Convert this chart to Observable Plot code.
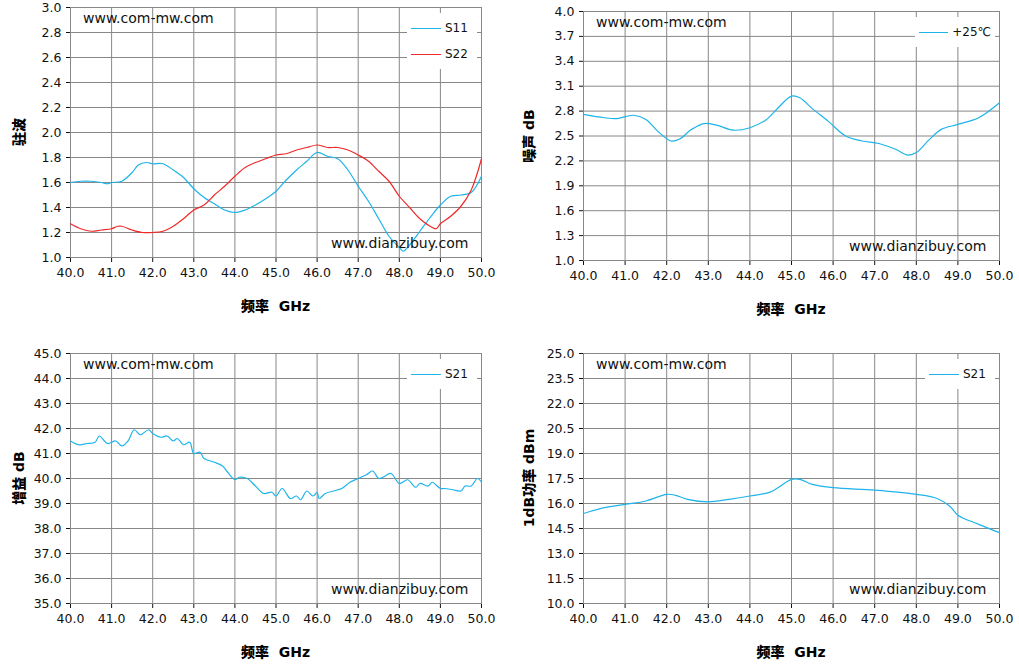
<!DOCTYPE html>
<html><head><meta charset="utf-8">
<script src="https://cdn.jsdelivr.net/npm/d3@7"></script>
<script src="https://cdn.jsdelivr.net/npm/@observablehq/plot@0.6"></script>
<style>
body{margin:0;background:#fff;font-family:"DejaVu Sans",sans-serif}
#wrap{position:relative;width:1019px;height:665px}
.p{position:absolute}
.wm{position:absolute;font:14px "DejaVu Sans";color:#111}
.lg{position:absolute;background:#fff;font:12px "DejaVu Sans";color:#111;padding:2px 4px}
.lg div{display:flex;align-items:center;height:26px}
.lg span{display:inline-block;width:30px;height:0;border-top:1.3px solid;margin-right:4px}
</style></head><body>
<div id="wrap"></div>
<script>
const s11 = [[40.0,1.60],[40.25,1.61],[40.5,1.61],[40.75,1.60],[40.9,1.59],[41.0,1.60],[41.25,1.61],[41.5,1.68],[41.65,1.74],[41.85,1.76],[42.0,1.75],[42.25,1.75],[42.5,1.70],[42.75,1.64],[43.0,1.55],[43.25,1.48],[43.5,1.43],[43.75,1.38],[44.0,1.36],[44.25,1.38],[44.5,1.42],[44.75,1.47],[45.0,1.53],[45.25,1.62],[45.5,1.70],[45.75,1.77],[46.0,1.84],[46.25,1.81],[46.5,1.79],[46.75,1.70],[47.0,1.57],[47.25,1.45],[47.5,1.31],[47.75,1.17],[48.0,1.08],[48.1,1.05],[48.25,1.10],[48.5,1.21],[48.75,1.32],[49.0,1.42],[49.25,1.49],[49.5,1.50],[49.75,1.52],[50.0,1.65]];
const s22 = [[40.0,1.27],[40.25,1.23],[40.5,1.21],[40.75,1.22],[41.0,1.23],[41.15,1.25],[41.25,1.25],[41.5,1.22],[41.75,1.20],[42.0,1.20],[42.25,1.21],[42.5,1.25],[42.75,1.31],[43.0,1.38],[43.25,1.42],[43.5,1.50],[43.75,1.57],[44.0,1.65],[44.25,1.72],[44.5,1.76],[44.75,1.79],[45.0,1.82],[45.25,1.83],[45.5,1.86],[45.75,1.88],[46.0,1.90],[46.25,1.88],[46.5,1.88],[46.75,1.86],[47.0,1.82],[47.25,1.77],[47.5,1.69],[47.75,1.61],[48.0,1.49],[48.25,1.40],[48.5,1.31],[48.75,1.25],[48.9,1.23],[49.0,1.27],[49.25,1.33],[49.5,1.41],[49.75,1.54],[50.0,1.79]];
const noise = [[40.0,2.76],[40.5,2.72],[40.8,2.71],[41.2,2.75],[41.5,2.70],[41.8,2.55],[42.1,2.44],[42.3,2.46],[42.6,2.58],[42.9,2.65],[43.2,2.63],[43.6,2.57],[44.0,2.60],[44.4,2.70],[44.7,2.85],[45.0,2.98],[45.2,2.96],[45.5,2.83],[45.9,2.67],[46.3,2.50],[46.7,2.44],[47.1,2.41],[47.5,2.34],[47.8,2.27],[48.0,2.30],[48.3,2.45],[48.6,2.58],[49.0,2.64],[49.5,2.72],[50.0,2.90]];
const gain = [[40.0,41.5],[40.2,41.35],[40.4,41.4],[40.6,41.45],[40.7,41.7],[40.9,41.4],[41.1,41.5],[41.25,41.3],[41.4,41.5],[41.55,41.95],[41.7,41.75],[41.9,41.95],[42.0,41.8],[42.2,41.65],[42.35,41.7],[42.5,41.5],[42.6,41.6],[42.75,41.35],[42.9,41.45],[43.0,41.0],[43.15,41.05],[43.25,40.8],[43.5,40.65],[43.7,40.5],[43.8,40.3],[44.0,39.95],[44.1,40.05],[44.3,40.0],[44.5,39.7],[44.7,39.4],[44.9,39.45],[45.0,39.3],[45.15,39.6],[45.35,39.2],[45.5,39.3],[45.6,39.15],[45.75,39.5],[45.9,39.3],[46.0,39.45],[46.05,39.2],[46.2,39.4],[46.4,39.5],[46.6,39.6],[46.8,39.85],[47.0,40.0],[47.2,40.15],[47.35,40.3],[47.5,40.0],[47.6,40.05],[47.8,40.2],[48.0,39.8],[48.2,39.95],[48.4,39.65],[48.5,39.8],[48.7,39.7],[48.8,39.85],[49.0,39.6],[49.1,39.6],[49.3,39.55],[49.5,39.5],[49.6,39.7],[49.75,39.7],[49.9,40.0],[50.0,39.85]];
const p1db = [[40.0,15.4],[40.5,15.75],[41.0,15.95],[41.5,16.15],[42.0,16.55],[42.2,16.5],[42.5,16.25],[43.0,16.1],[43.5,16.25],[44.0,16.45],[44.5,16.7],[45.0,17.45],[45.2,17.45],[45.5,17.15],[46.0,16.95],[47.0,16.8],[48.0,16.55],[48.5,16.3],[48.8,15.85],[49.0,15.3],[49.5,14.75],[50.0,14.25]];
const xTicks = d3.range(40, 50.01, 1);
const BLUE = "#1eb4ea", RED = "#ee2a2a";

const wrap = document.getElementById("wrap");
function panel({left, top, w, h, mt, mb, ml, mr, yDom, yStep, ylabel, series, legW}) {
  const yTicks = d3.range(yDom[0], yDom[1] + yStep/2, yStep);
  const plot = Plot.plot({
    width: w, height: h, marginTop: mt, marginBottom: mb, marginLeft: ml, marginRight: mr,
    style: {fontFamily: "DejaVu Sans", fontSize: "12.5px", color: "#111", background: "#fff"},
    x: {domain: [40, 50], ticks: xTicks, tickFormat: d3.format(".1f"), tickSize: 5, tickPadding: 6, label: null},
    y: {domain: yDom, ticks: yTicks, tickFormat: d3.format(".1f"), tickSize: 4, label: null},
    marks: [
      Plot.gridX(xTicks, {stroke: "#888", strokeOpacity: 1}),
      Plot.gridY(yTicks, {stroke: "#888", strokeOpacity: 1}),
      Plot.frame({stroke: "#888"}),
      ...series.map(s => Plot.line(s.data, {x: d => d[0], y: d => d[1], stroke: s.color, strokeWidth: 1.2, curve: "catmull-rom"}))
    ]
  });
  const d = document.createElement("div");
  d.className = "p"; d.style.left = left + "px"; d.style.top = top + "px";
  d.append(plot); wrap.append(d);
  const ph = h - mt - mb;
  const add = (cls, html, css) => { const e = document.createElement("div"); e.className = cls; e.innerHTML = html; Object.assign(e.style, css); wrap.append(e); };
  add("wm", "www.com-mw.com", {left: left + ml + 13 + "px", top: top + mt + 3 + "px"});
  add("wm", "www.dianzibuy.com", {left: left + w - mr - 150 + "px", top: top + mt + ph - 22 + "px"});
  add("lg", series.map(s => `<div><span style="border-color:${s.color}"></span>${s.name}</div>`).join(""),
      {left: left + w - mr - legW - 12 + "px", top: top + mt + 6 + "px", width: legW + "px"});
  add("", `<b>${ylabel}</b>`, {position: "absolute", left: left + 18 + "px", top: top + mt + ph/2 + "px",
      transform: "translate(-50%,-50%) rotate(-90deg)", font: "bold 14px 'DejaVu Sans','Noto Sans CJK SC'", whiteSpace: "nowrap"});
  add("", "<b>频率&nbsp; GHz</b>", {position: "absolute", left: left + ml + (w - ml - mr)/2 + "px", top: top + mt + ph + 38 + "px",
      transform: "translateX(-50%)", font: "bold 14px 'DejaVu Sans','Noto Sans CJK SC'", whiteSpace: "nowrap"});
}
panel({left: 0, top: 0, w: 500, h: 310, mt: 7, mb: 53, ml: 70, mr: 19, yDom: [1, 3], yStep: 0.2, ylabel: "驻波",
  series: [{name: "S11", data: s11, color: BLUE}, {name: "S22", data: s22, color: RED}], legW: 62});
panel({left: 510, top: 0, w: 509, h: 310, mt: 11, mb: 50, ml: 73, mr: 20, yDom: [1, 4], yStep: 0.3, ylabel: "噪声 dB",
  series: [{name: "+25℃", data: noise, color: BLUE}], legW: 72});
panel({left: 0, top: 340, w: 500, h: 325, mt: 13, mb: 62, ml: 70, mr: 19, yDom: [35, 45], yStep: 1, ylabel: "增益 dB",
  series: [{name: "S21", data: gain, color: BLUE}], legW: 62});
panel({left: 510, top: 340, w: 509, h: 325, mt: 13, mb: 62, ml: 73, mr: 20, yDom: [10, 25], yStep: 1.5, ylabel: "1dB功率 dBm",
  series: [{name: "S21", data: p1db, color: BLUE}], legW: 62});
</script>
</body></html>
